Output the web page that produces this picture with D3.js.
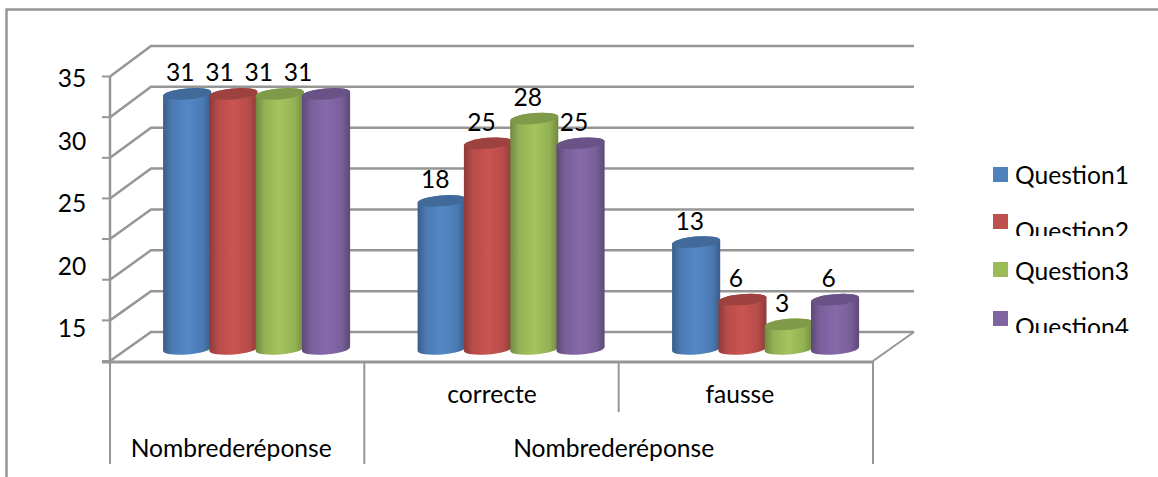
<!DOCTYPE html>
<html><head><meta charset="utf-8">
<script src="https://cdn.jsdelivr.net/npm/d3@7"></script>
<style>html,body{margin:0;padding:0;background:#fff}svg{display:block}text{font-family:Lato,"Open Sans",sans-serif;fill:#000}</style>
</head><body><div id="c"></div>
<script>
const categories=["Nombrederéponse","correcte","fausse"];
const groupLabels=["Nombrederéponse","Nombrederéponse"];
const seriesNames=["Question1","Question2","Question3","Question4"];
const question1=[31,18,13];
const question2=[31,25,6];
const question3=[31,28,3];
const question4=[31,25,6];
const tickLabels=[35,30,25,20,15];
const gridValues=[0,5,10,15,20,25,30,35];
const colors=["#4F81BD","#C0504D","#9BBB59","#8064A2"];
const series=[question1,question2,question3,question4];

const W=1158,H=477;
const svg=d3.select("#c").append("svg").attr("width",W).attr("height",H);
const defs=svg.append("defs");
const grid="#969696";
const FS=24.6;

// frame: left and top edges only, the right edge is outside the crop
svg.append("path").attr("d",`M6.5,${H}V9.5H${W}`).attr("fill","none").attr("stroke",grid).attr("stroke-width",2.5);

const front=d3.scaleLinear().domain([0,35]).range([361,76.5]);
const back=d3.scaleLinear().domain([0,35]).range([332,46]);
const barY=d3.scaleLinear().domain([0,35]).range([349,61]);
const x0=d3.scaleBand().domain(d3.range(3)).range([110,873]);
const FX=110,BX=151,BR=914,FR=873;

// walls
const g=svg.append("g").attr("fill","none").attr("stroke",grid);
gridValues.forEach(v=>{
  g.append("path").attr("stroke-width",2.5).attr("d",`M${FX},${front(v)}L${BX},${back(v)}H${BR}`);
  g.append("path").attr("stroke-width",2).attr("d",`M${FX-8},${front(v)}H${FX}`);
});
g.append("path").attr("stroke-width",2.5).attr("d",`M${FX},${front(35)}V${front(0)}`);
g.append("path").attr("stroke-width",3).attr("d",`M${FX-8},${front(0)+1}H${FR}`);
g.append("path").attr("stroke-width",2).attr("d",`M${FR},${front(0)}L${BR},${back(0)}`);

// tier separators
[[0,464],[1,464],[2,412],[3,464]].forEach(([i,end])=>{
  const x=i<3?x0(i):x0(2)+x0.bandwidth();
  g.append("path").attr("stroke-width",2).attr("d",`M${x},${front(0)}V${end}`);
});

// cylinder gradients
colors.forEach((c,i)=>{
  const lg=defs.append("linearGradient").attr("id","g"+i);
  const base=d3.color(c);
  [[0,base.darker(.9)],[.18,base.darker(.15)],[.5,base.brighter(.15)],[.82,base.darker(.15)],[1,base.darker(.9)]].forEach(([o,col])=>lg.append("stop").attr("offset",o).attr("stop-color",col));
});

// cylinders
const barW=46.3,rx=barW/2+1,ry=5.5,rot=-5;
const groupLeft=[164,418.5,673];
const bars=svg.append("g");
const dx=rx*Math.cos(rot*Math.PI/180),dy=rx*Math.sin(rot*Math.PI/180);
const cxOf=(ci,si)=>groupLeft[ci]+si*barW+barW/2;
categories.forEach((cat,ci)=>{
  series.forEach((s,si)=>{
    const cx=cxOf(ci,si), v=s[ci], yt=barY(v), yb=barY(0);
    const gb=bars.append("g");
    gb.append("path").attr("fill",`url(#g${si})`)
      .attr("d",`M${cx-dx},${yt-dy}A${rx},${ry} ${rot} 0 1 ${cx+dx},${yt+dy}L${cx+dx},${yb+dy}A${rx},${ry} ${rot} 0 1 ${cx-dx},${yb-dy}Z`);
    gb.append("ellipse").attr("cx",cx).attr("cy",yt).attr("rx",rx).attr("ry",ry)
      .attr("transform",`rotate(${rot} ${cx} ${yt})`).attr("fill",d3.color(colors[si]).darker(.55));
  });
});
// data labels
categories.forEach((cat,ci)=>{
  series.forEach((s,si)=>{
    const shift=ci===0?-7*(si+1):-6.5;
    svg.append("text").attr("x",cxOf(ci,si)+shift).attr("y",barY(s[ci])-12.5).attr("text-anchor","middle").attr("font-size",FS).text(s[ci]);
  });
});

// value axis labels
const tickY=d3.scaleLinear().domain([15,35]).range([337,87]);
tickLabels.forEach(t=>svg.append("text").attr("x",72).attr("y",tickY(t)).attr("text-anchor","middle").attr("font-size",FS).text(t));

// category labels
svg.append("text").attr("x",x0(1)+x0.bandwidth()/2+0.5).attr("y",403).attr("text-anchor","middle").attr("font-size",FS).text(categories[1]);
svg.append("text").attr("x",x0(2)+x0.bandwidth()/2-6).attr("y",403).attr("text-anchor","middle").attr("font-size",FS).text(categories[2]);
svg.append("text").attr("x",(x0(0)+x0(1))/2-6).attr("y",457).attr("text-anchor","middle").attr("font-size",FS).text(groupLabels[0]);
svg.append("text").attr("x",(x0(1)+FR)/2-5).attr("y",457).attr("text-anchor","middle").attr("font-size",FS).text(groupLabels[1]);

// legend (rows 2 and 4 are clipped in the reference)
const legendRows=[{sq:167,base:184,clip:null},{sq:214,base:240,clip:236},{sq:262,base:280,clip:null},{sq:311,base:336,clip:333}];
seriesNames.forEach((n,i)=>{
  const r=legendRows[i];
  svg.append("rect").attr("x",993).attr("y",r.sq).attr("width",15).attr("height",15).attr("fill",colors[i]);
  const t=svg.append("text").attr("x",1015).attr("y",r.base).attr("font-size",FS).text(n);
  if(r.clip){
    defs.append("clipPath").attr("id","lc"+i).append("rect").attr("x",1010).attr("y",r.clip-40).attr("width",140).attr("height",40);
    t.attr("clip-path",`url(#lc${i})`);
  }
});
</script></body></html>
